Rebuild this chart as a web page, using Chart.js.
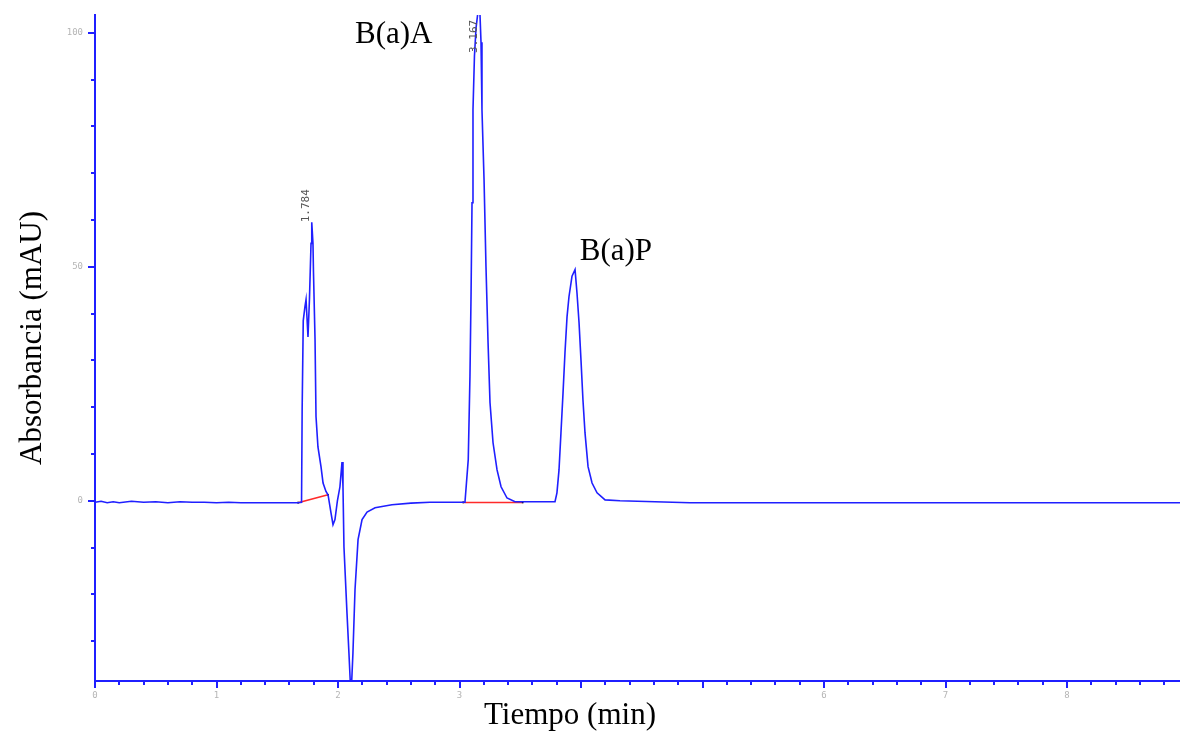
<!DOCTYPE html>
<html lang="es">
<head>
  <meta charset="UTF-8">
  <title>Cromatograma B(a)A / B(a)P</title>
  <script src="https://cdn.jsdelivr.net/npm/chart.js"></script>
  <style>
    html, body { margin: 0; padding: 0; background: #fff; }
  </style>
</head>
<body>
  <canvas id="grafico" width="1180" height="731"></canvas>

  <script>
    // señal del detector (min, mAU)
    const tiempo = [
      0, 0.05, 0.1, 0.15, 0.2, 0.3, 0.4, 0.5, 0.6, 0.7, 0.8, 0.9, 1.0, 1.1, 1.2, 1.3, 1.4, 1.5, 1.6, 1.671,
      1.700, 1.705, 1.714, 1.728, 1.737, 1.753, 1.765, 1.778, 1.784, 1.794, 1.798, 1.811, 1.819, 1.835,
      1.860, 1.877, 1.901, 1.918, 1.942, 1.959, 1.975, 1.995, 2.016, 2.033, 2.041, 2.049, 2.074, 2.090,
      2.107, 2.123, 2.140, 2.165, 2.198, 2.239, 2.305, 2.444, 2.600, 2.757, 3.045,
      3.072, 3.086, 3.095, 3.103, 3.111, 3.123, 3.136, 3.152, 3.167, 3.177, 3.185, 3.202, 3.218, 3.235,
      3.251, 3.276, 3.309, 3.342, 3.391, 3.457, 3.786,
      3.802, 3.819, 3.835, 3.852, 3.868, 3.885, 3.901, 3.926, 3.951, 3.967, 3.984, 4.000, 4.016, 4.033,
      4.058, 4.091, 4.132, 4.198, 4.321, 4.897, 8.93
    ];
    const absorbancia = [
      -0.3, -0.1, -0.4, -0.2, -0.4, -0.1, -0.3, -0.2, -0.4, -0.2, -0.3, -0.3, -0.4, -0.3, -0.4, -0.4, -0.4, -0.4, -0.4, -0.4,
      -0.3, 19.7, 38.5, 41.5, 43, 35, 43, 55, 59.5, 55, 49, 34.4, 18, 11.5,
      7.3, 3.8, 2.0, 1.3, -2.5, -5.1, -4.0, 0, 3, 8.3, 3, -9.8, -24, -32.5,
      -42, -32.5, -19, -8.3, -4, -2.4, -1.5, -0.85, -0.5, -0.3, -0.3,
      8.8, 26.5, 44, 63.7, 83.5, 95, 101, 104.5, 105, 98, 83.5, 68.6, 50, 33.8,
      21, 12.4, 6.6, 3, 0.6, -0.2, -0.2,
      1.7, 6.6, 14.5, 23, 31.6, 39.3, 43.6, 48, 49.4, 44.4, 38, 30, 21.6, 14.5,
      7.3, 3.8, 1.7, 0.2, 0, -0.4, -0.4
    ];

    // líneas base de integración (rojo)
    const base1T = [1.671, 1.918];
    const base1Y = [-0.4, 1.3];
    const base2T = [3.03, 3.52];
    const base2Y = [-0.35, -0.35];

    // tiempos de retención marcados
    const picos = ['1.784', '3.167'];
    const picosT = [1.784, 3.167];
    const picosY = [59.5, 95.7];

    const compuestos = ['B(a)A', 'B(a)P'];
    const compuestosT = [2.14, 3.99];
    const compuestosY = [99.6, 53.2];

    const xEtiquetas = [0, 1, 2, 3, 6, 7, 8];
    const yEtiquetas = [0, 50, 100];

    const AZUL = '#1f1fff';
    const esEtiquetaX = v => xEtiquetas.some(e => Math.abs(e - v) < 1e-6);
    const esEnteroX = v => Math.abs(v - Math.round(v)) < 1e-6;
    const esEtiquetaY = v => yEtiquetas.some(e => Math.abs(e - v) < 1e-6);

    const decor = {
      id: 'decor',
      afterDraw(chart) {
        const { ctx, scales: { x, y } } = chart;
        ctx.save();

        // marcas de los ejes
        ctx.strokeStyle = AZUL;
        ctx.lineWidth = 2;
        x.ticks.forEach(t => {
          const px = Math.round(x.getPixelForValue(t.value));
          const largo = esEnteroX(t.value) ? 7 : 4;
          ctx.beginPath();
          ctx.moveTo(px, x.top);
          ctx.lineTo(px, x.top + largo);
          ctx.stroke();
        });
        y.ticks.forEach(t => {
          const py = Math.round(y.getPixelForValue(t.value));
          const largo = esEtiquetaY(t.value) ? 7 : 4;
          ctx.beginPath();
          ctx.moveTo(y.right, py);
          ctx.lineTo(y.right - largo, py);
          ctx.stroke();
        });

        // tiempos de retención
        ctx.fillStyle = '#555';
        ctx.font = '11px "DejaVu Sans Mono"';
        ctx.textAlign = 'left';
        ctx.textBaseline = 'middle';
        picos.forEach((txt, i) => {
          const px = x.getPixelForValue(picosT[i]) - 6;
          const py = y.getPixelForValue(picosY[i]);
          ctx.save();
          ctx.translate(px, py);
          ctx.rotate(-Math.PI / 2);
          ctx.fillText(txt, 0, 0);
          ctx.restore();
        });

        // nombres de los compuestos
        ctx.fillStyle = '#000';
        ctx.font = '31px "Liberation Serif"';
        compuestos.forEach((txt, i) => {
          ctx.fillText(txt, x.getPixelForValue(compuestosT[i]), y.getPixelForValue(compuestosY[i]));
        });

        // títulos de los ejes
        ctx.textAlign = 'center';
        ctx.fillText('Tiempo (min)', 570, 716);
        ctx.save();
        ctx.translate(33, 338);
        ctx.rotate(-Math.PI / 2);
        ctx.fillText('Absorbancia (mAU)', 0, 0);
        ctx.restore();

        ctx.restore();
      }
    };

    const ctx = document.getElementById('grafico').getContext('2d');
    new Chart(ctx, {
      type: 'line',
      data: {
        datasets: [
          {
            data: tiempo.map((t, i) => ({ x: t, y: absorbancia[i] })),
            borderColor: AZUL,
            borderWidth: 1.6,
            pointRadius: 0,
            tension: 0
          },
          {
            data: base1T.map((t, i) => ({ x: t, y: base1Y[i] })),
            borderColor: '#ff2a2a',
            borderWidth: 1.6,
            pointRadius: 1.2,
            pointStyle: 'rect',
            pointBackgroundColor: '#000',
            pointBorderWidth: 0
          },
          {
            data: base2T.map((t, i) => ({ x: t, y: base2Y[i] })),
            borderColor: '#ff2a2a',
            borderWidth: 1.6,
            pointRadius: 1.2,
            pointStyle: 'rect',
            pointBackgroundColor: '#000',
            pointBorderWidth: 0
          }
        ]
      },
      options: {
        responsive: false,
        animation: false,
        layout: { autoPadding: false, padding: { top: 15, right: 0, left: 0, bottom: 0 } },
        plugins: {
          legend: { display: false },
          tooltip: { enabled: false }
        },
        scales: {
          x: {
            type: 'linear',
            min: 0,
            max: 8.93,
            afterFit: s => { s.height = 50; s.paddingLeft = 0; s.paddingRight = 0; },
            grid: { drawOnChartArea: false, drawTicks: false },
            border: { display: true, color: AZUL, width: 2 },
            ticks: {
              stepSize: 0.2,
              autoSkip: false,
              maxRotation: 0,
              includeBounds: false,
              padding: 9,
              color: '#b5b5b5',
              font: { family: 'DejaVu Sans Mono', size: 9 },
              callback: v => esEtiquetaX(v) ? String(Math.round(v)) : ''
            }
          },
          y: {
            min: -38.5,
            max: 103.8,
            afterFit: s => { s.width = 95; s.paddingTop = 0; s.paddingBottom = 0; },
            grid: { drawOnChartArea: false, drawTicks: false },
            border: { display: true, color: AZUL, width: 2 },
            ticks: {
              stepSize: 10,
              autoSkip: false,
              includeBounds: false,
              padding: 12,
              color: '#b5b5b5',
              font: { family: 'DejaVu Sans Mono', size: 9 },
              callback: v => esEtiquetaY(v) ? String(v) : ''
            }
          }
        }
      },
      plugins: [decor]
    });
  </script>
</body>
</html>
